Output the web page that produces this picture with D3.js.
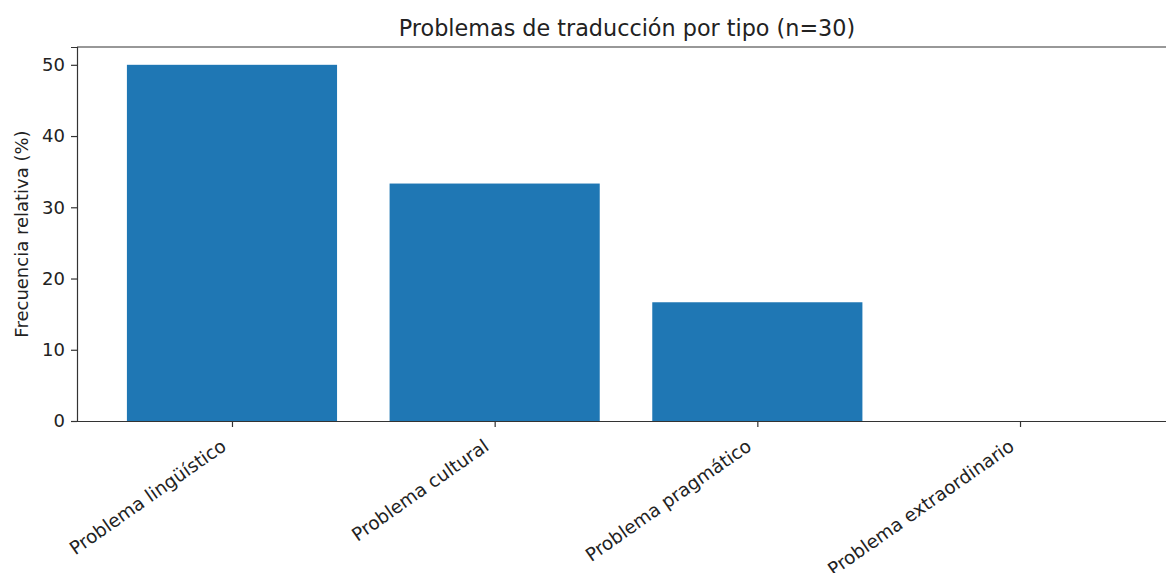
<!DOCTYPE html>
<html>
<head>
<meta charset="utf-8">
<script src="https://cdn.jsdelivr.net/npm/d3@7"></script>
<style>
  body { margin: 0; background: #fff; }
  text { font-family: "DejaVu Sans", sans-serif; fill: #222; }
</style>
</head>
<body>
<svg id="chart"></svg>
<script>
const categories = ["Problema lingüístico", "Problema cultural", "Problema pragmático", "Problema extraordinario"];
const values = [50, 33.333, 16.667, 0];
const yTicks = [0, 10, 20, 30, 40, 50];

const width = 1166, height = 573;
const margin = {left: 77, top: 47, right: -9, bottom: 152};

const svg = d3.select("#chart").attr("width", width).attr("height", height);

// index scale with matplotlib-like padding on both ends
const x = d3.scaleLinear()
    .domain([-0.59, categories.length - 1 + 0.59])
    .range([margin.left, width - margin.right]);
const y = d3.scaleLinear()
    .domain([0, 52.5])
    .range([height - margin.bottom, margin.top]);

const barW = x(0.8) - x(0);

svg.selectAll(".bar")
    .data(values)
    .enter()
    .append("rect")
    .attr("class", "bar")
    .attr("x", (d, i) => x(i) - barW / 2)
    .attr("width", barW)
    .attr("y", d => y(d))
    .attr("height", d => y(0) - y(d))
    .attr("fill", "#1f77b4");

// y axis
const yAxis = svg.append("g")
    .attr("transform", `translate(${margin.left},0)`)
    .call(d3.axisLeft(y).tickValues(yTicks).tickSize(6).tickPadding(6));
yAxis.select(".domain").attr("stroke", "#333").attr("stroke-width", 1.2);
yAxis.selectAll(".tick line").attr("stroke", "#333").attr("stroke-width", 1.2);
yAxis.selectAll(".tick text").style("font-size", "18px").attr("fill", "#222");

// x axis
const xAxis = svg.append("g")
    .attr("transform", `translate(0,${y(0)})`)
    .call(d3.axisBottom(x).tickValues(d3.range(categories.length))
        .tickFormat(i => categories[i]).tickSize(6).tickSizeOuter(0));
xAxis.select(".domain").attr("stroke", "#333").attr("stroke-width", 1.2);
xAxis.selectAll(".tick line").attr("stroke", "#333").attr("stroke-width", 1.2);
xAxis.selectAll(".tick text")
    .style("font-size", "18.4px")
    .attr("fill", "#222")
    .attr("text-anchor", "end")
    .attr("y", 0)
    .attr("dy", 0)
    .attr("transform", "translate(-5,28) rotate(-35)");

// top spine
svg.append("line")
    .attr("x1", margin.left).attr("x2", width)
    .attr("y1", margin.top).attr("y2", margin.top)
    .attr("stroke", "#333").attr("stroke-width", 1.2);

svg.append("text")
    .attr("x", 627)
    .attr("y", 36)
    .attr("text-anchor", "middle")
    .style("font-size", "22.3px")
    .text("Problemas de traducción por tipo (n=30)");

svg.append("text")
    .attr("transform", `translate(28,${(margin.top + y(0)) / 2}) rotate(-90)`)
    .attr("text-anchor", "middle")
    .style("font-size", "18px")
    .text("Frecuencia relativa (%)");
</script>
</body>
</html>
